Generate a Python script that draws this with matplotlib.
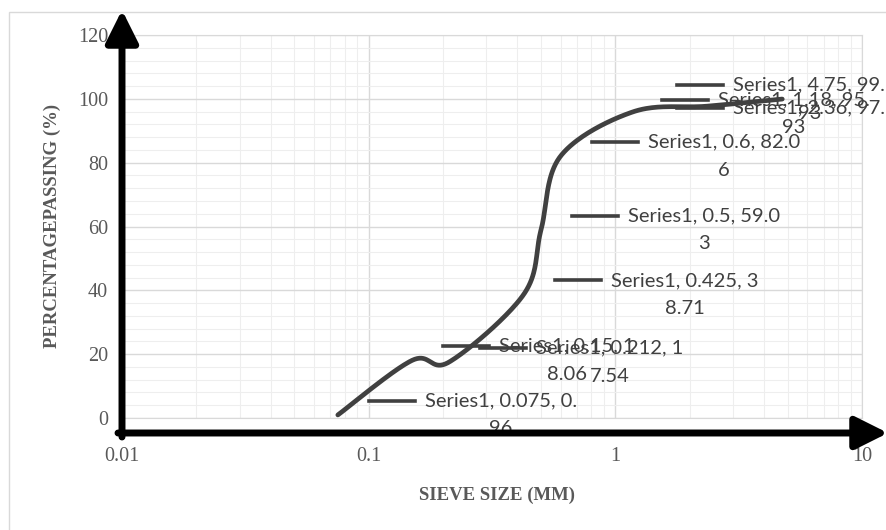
import numpy as np
import matplotlib
matplotlib.use("Agg")
import matplotlib.pyplot as plt
from matplotlib.patches import Rectangle, FancyArrowPatch
from matplotlib.lines import Line2D
from matplotlib.transforms import IdentityTransform
from matplotlib.ticker import NullFormatter

# sieve analysis data (mm, % passing)
sieve = [0.075, 0.15, 0.212, 0.425, 0.5, 0.6, 1.18, 2.36, 4.75]
passing = [0.96, 18.06, 17.54, 38.71, 59.03, 82.06, 95.93, 97.7, 99.93]
series_name = "Series1"
x_ticks = [0.01, 0.1, 1, 10]
x_tick_labels = ["0.01", "0.1", "1", "10"]
y_ticks = [0, 20, 40, 60, 80, 100, 120]

# where each data label wraps, and label offsets in pixels (text left, down)
label_breaks = [18, 16, 17, 17, 18, 18, 18, 19, 18]
label_dx = [87, 87, 87, 87, 87, 87, 85, 26, -49]
label_dy = [14, 14, 14, 14, 14, 14, 12, -2, 14]

W, H = 886, 530
fig = plt.figure(figsize=(W / 100, H / 100), dpi=100)
ax = fig.add_axes([122 / W, 1 - 418 / H, 740 / W, 383 / H])
ax.set_xscale("log")
ax.set_xlim(0.01, 10)
ax.set_ylim(0, 120)

# grid
ax.set_yticks(y_ticks)
ax.set_yticks(np.arange(0, 121, 4), minor=True)
ax.set_xticks(x_ticks)
ax.set_xticklabels(x_tick_labels)
ax.xaxis.set_minor_formatter(NullFormatter())
ax.grid(which="major", color="#d9d9d9", lw=1)
ax.grid(which="minor", color="#eeeeee", lw=0.8)
ax.set_axisbelow(True)
ax.tick_params(which="both", length=0)
ax.tick_params(axis="x", pad=21, labelsize=14.5, labelcolor="#595959")
ax.tick_params(axis="y", pad=10, labelsize=14.5, labelcolor="#595959")
for lab in ax.get_xticklabels() + ax.get_yticklabels():
    lab.set_family("Liberation Serif")
for s in ax.spines.values():
    s.set_color("#d9d9d9")

# smoothed line (excel style bezier through the points, in screen space)
fig.canvas.draw()
renderer = fig.canvas.get_renderer()
pts = ax.transData.transform(np.column_stack([sieve, passing]))
curve = []
n = len(pts)
for i in range(n - 1):
    p0 = pts[i - 1] if i > 0 else pts[i]
    p1, p2 = pts[i], pts[i + 1]
    p3 = pts[i + 2] if i + 2 < n else pts[i + 1]
    c1 = p1 + (p2 - p0) / 6
    c2 = p2 - (p3 - p1) / 6
    t = np.linspace(0, 1, 40)[:, None]
    seg = (1 - t) ** 3 * p1 + 3 * (1 - t) ** 2 * t * c1 + 3 * (1 - t) * t ** 2 * c2 + t ** 3 * p2
    curve.append(seg)
curve = np.vstack(curve)
data_curve = ax.transData.inverted().transform(curve)
ax.plot(data_curve[:, 0], data_curve[:, 1], color="#404040", lw=3.4,
        solid_capstyle="round", zorder=3)

# data labels with leader lines (wrapped in two lines, second one centred)
lab_style = dict(transform=IdentityTransform(), fontsize=14.5, family="Lato",
                 color="#404040", va="center")
for i, (xv, yv) in enumerate(zip(sieve, passing)):
    txt = f"{series_name}, {xv}, {yv}"
    line1, line2 = txt[:label_breaks[i]], txt[label_breaks[i]:]
    px, py = pts[i]
    tx = px + label_dx[i]
    ty = py + label_dy[i]
    fig.add_artist(Line2D([tx - 56, tx - 10], [ty, ty], color="#404040", lw=2.6,
                          transform=IdentityTransform()))
    t1 = fig.text(tx, ty, line1, ha="left", **lab_style)
    if line2:
        w = t1.get_window_extent(renderer).width
        fig.text(tx + w / 2, ty - 28, line2, ha="center", **lab_style)

# thick black axis arrows, drawn over the labels
for a, b in [((122, H - 437), (122, H - 10)), ((118, H - 433), (888, H - 433))]:
    fig.add_artist(FancyArrowPatch(a, b, transform=IdentityTransform(),
                                   arrowstyle="-|>,head_length=0.9,head_width=0.45",
                                   lw=5, color="black", shrinkA=0, shrinkB=0,
                                   mutation_scale=22, zorder=10))

# axis titles
fig.text(52, H - 226, "PERCENTAGEPASSING (%)", transform=IdentityTransform(),
         rotation=90, ha="center", va="center", family="Liberation Serif",
         weight="bold", fontsize=13.5, color="#595959")
fig.text(497, H - 495, "SIEVE SIZE (MM)", transform=IdentityTransform(),
         ha="center", va="center", family="Liberation Serif",
         weight="bold", fontsize=13.5, color="#595959")

# chart border
fig.add_artist(Rectangle((8.5, -5), 900, H - 12 + 5, fill=False, edgecolor="#d9d9d9",
                         lw=1, transform=IdentityTransform()))

fig.savefig("out.png", dpi=100)
